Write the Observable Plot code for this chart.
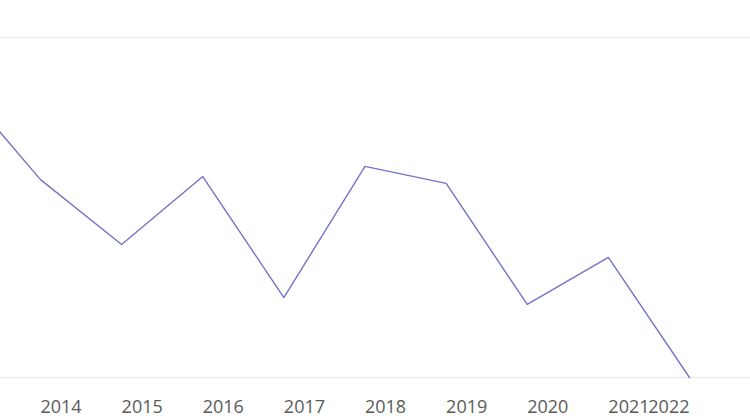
<!DOCTYPE html>
<html>
<head>
<meta charset="utf-8">
<script src="https://cdn.jsdelivr.net/npm/d3@7"></script>
<script src="https://cdn.jsdelivr.net/npm/@observablehq/plot@0.6"></script>
<style>
  html, body { margin: 0; padding: 0; background: #fff; }
  svg { overflow: hidden; display: block; }
</style>
</head>
<body>
<div id="chart"></div>
<script>
const years = [2013, 2014, 2015, 2016, 2017, 2018, 2019, 2020, 2021, 2022];
const values = [86.2, 58.2, 39.1, 59.1, 23.5, 62.1, 57.1, 21.5, 35.3, 0];
const gridValues = [0, 100];

const data = years.map((year, i) => ({year, value: values[i]}));
const lastYear = years[years.length - 1];

const chart = Plot.plot({
  width: 750,
  height: 420,
  marginTop: 37,
  marginBottom: 43,
  marginLeft: 0,
  marginRight: 0,
  style: {fontFamily: "'Open Sans', sans-serif", background: "#fff"},
  x: {domain: [2013.507, 2022.752], range: [0, 750], axis: null},
  y: {domain: [0, 100], axis: null},
  marks: [
    Plot.ruleY(gridValues, {stroke: "#ececec", strokeWidth: 1.5}),
    Plot.line(data, {x: "year", y: "value", stroke: "#7373cc", strokeWidth: 1.4}),
    Plot.axisX(years.slice(0, -1), {
      tickSize: 0, tickPadding: 23, textAnchor: "start",
      fontSize: 18, fill: "#5a5a5a", tickFormat: d => String(d), label: null
    }),
    Plot.axisX([lastYear], {
      tickSize: 0, tickPadding: 23, textAnchor: "end",
      fontSize: 18, fill: "#5a5a5a", tickFormat: d => String(d), label: null
    })
  ]
});
document.getElementById("chart").appendChild(chart);
</script>
</body>
</html>
